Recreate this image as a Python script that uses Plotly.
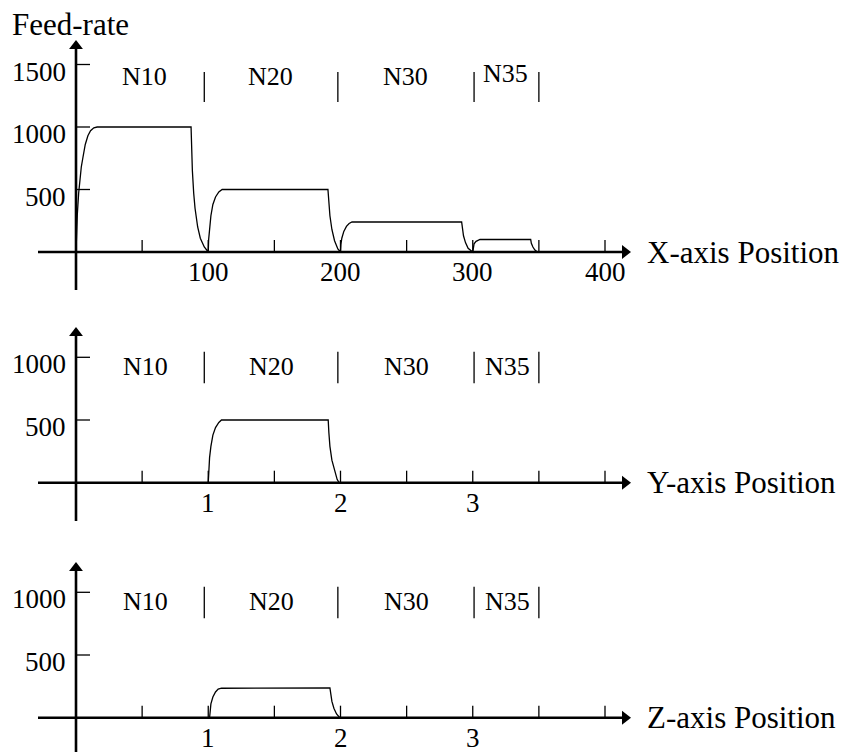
import plotly.graph_objects as go

# ---------------- data ----------------
# Panel 1: X-axis feed-rate profile (position, feed-rate)
x_pos = [0, 0.5, 1, 2, 3, 4, 5.3, 7, 9, 11, 13.5, 16,
         87, 87.5, 88, 89, 90, 92, 94, 97, 100,
         100.3, 101, 102, 103.5, 105.5, 108, 110.5,
         190.5, 191, 192, 193.5, 195.5, 198, 200,
         200.3, 201, 202.5, 204.5, 206.5, 208.7,
         291.6, 292, 293, 294.5, 296.5, 300,
         300.3, 301, 302.5, 305.5,
         343.8, 344.3, 345.5, 347, 349]
x_feed = [0, 180, 300, 470, 590, 680, 760, 860, 930, 970, 993, 1000,
          1000, 800, 650, 470, 350, 200, 110, 40, 0,
          100, 200, 290, 380, 440, 480, 500,
          500, 400, 290, 180, 90, 25, 0,
          60, 110, 165, 205, 228, 240,
          240, 190, 130, 75, 30, 0,
          40, 65, 85, 100,
          100, 70, 40, 15, 0]

# Panel 2: Y-axis
y_pos = [1, 1.003, 1.01, 1.02, 1.035, 1.055, 1.08, 1.1,
         1.907, 1.912, 1.92, 1.935, 1.955, 1.975, 1.99]
y_feed = [0, 100, 200, 290, 380, 440, 480, 500,
          500, 400, 290, 180, 90, 25, 0]

# Panel 3: Z-axis
z_pos = [1.01, 1.013, 1.02, 1.035, 1.055, 1.075, 1.1,
         1.92, 1.925, 1.935, 1.95, 1.97, 1.995]
z_feed = [0, 60, 110, 165, 205, 228, 235,
          237, 190, 130, 75, 30, 0]

# block labels and boundaries
blocks = ["N10", "N20", "N30", "N35"]
x_block_centers = [51.8, 146.7, 248.8, 325]
x_block_bounds = [97, 198, 301, 350]
yz_block_centers = [0.528, 1.48, 2.5, 3.26]
yz_block_bounds = [0.97, 1.98, 3.01, 3.5]

# ticks
x_minor_ticks = [50, 100, 150, 200, 250, 300, 350, 400]
x_tick_labels = [100, 200, 300, 400]
yz_minor_ticks = [0.5, 1, 1.5, 2, 2.5, 3, 3.5, 4]
yz_tick_labels = [1, 2, 3]
x_feed_ticks = [500, 1000, 1500]
yz_feed_ticks = [500, 1000]

axis_titles = ["X-axis Position", "Y-axis Position", "Z-axis Position"]
ylabel = "Feed-rate"

# ---------------- layout geometry ----------------
OFF = 8  # page body margin
WIN_W, WIN_H = 848, 756
W, H = WIN_W - OFF, WIN_H - OFF
X0PX = 76.0          # window pixel of position 0
PX_PER_UNIT = 132.25  # px per 100 (panel 1) / per 1 (panels 2,3)

# panel (window pixels): top, bottom, zero line, px per feed unit, x scale
panels = [
    dict(top=OFF, bot=300, zero=252.0, s=0.125, xs=100.0),
    dict(top=300, bot=530, zero=482.7, s=0.1254, xs=1.0),
    dict(top=530, bot=WIN_H, zero=717.7, s=0.1254, xs=1.0),
]

FONT = "Liberation Serif, Times New Roman, serif"
BLACK = "black"

fig = go.Figure()
layout = dict(width=W, height=H, margin=dict(l=0, r=0, t=0, b=0),
              paper_bgcolor="white", plot_bgcolor="white", showlegend=False)
annotations = []


def seg_trace(xs, ys, width, xa, ya):
    fig.add_trace(go.Scatter(x=xs, y=ys, mode="lines",
                             line=dict(color=BLACK, width=width),
                             xaxis=xa, yaxis=ya, hoverinfo="skip"))


series = [(x_pos, x_feed), (y_pos, y_feed), (z_pos, z_feed)]

for i, p in enumerate(panels):
    n = "" if i == 0 else str(i + 1)
    xa, ya = "x" + n, "y" + n
    xs = p["xs"]

    def fx(px):
        return (px - X0PX) / PX_PER_UNIT * xs

    def fy(py):
        return (p["zero"] - py) / p["s"]

    layout["xaxis" + n] = dict(domain=[0, 1], range=[fx(OFF), fx(WIN_W)],
                               visible=False, anchor=ya, fixedrange=True)
    layout["yaxis" + n] = dict(domain=[1 - (p["bot"] - OFF) / H, 1 - (p["top"] - OFF) / H],
                               range=[fy(p["bot"]), fy(p["top"])],
                               visible=False, anchor=xa, fixedrange=True)

    # axis lines
    y_bottom = [290, 521, 752][i]
    y_tip = [40, 327, 562][i]
    seg_trace([fx(38), fx(622)], [0, 0], 2.6, xa, ya)
    seg_trace([0, 0], [fy(y_bottom), fy(y_tip + 9)], 2.6, xa, ya)
    # arrowheads
    fig.add_trace(go.Scatter(x=[fx(625)], y=[0], mode="markers",
                             marker=dict(symbol="triangle-right", size=12, color=BLACK),
                             xaxis=xa, yaxis=ya, hoverinfo="skip"))
    fig.add_trace(go.Scatter(x=[0], y=[fy(y_tip + 6)], mode="markers",
                             marker=dict(symbol="triangle-up", size=12, color=BLACK),
                             xaxis=xa, yaxis=ya, hoverinfo="skip"))

    # x minor ticks
    ticks = x_minor_ticks if i == 0 else yz_minor_ticks
    tx, ty = [], []
    for t in ticks:
        tx += [t, t, None]
        ty += [0, 12 / p["s"], None]
    seg_trace(tx, ty, 1.3, xa, ya)

    # y ticks
    fticks = x_feed_ticks if i == 0 else yz_feed_ticks
    tx, ty = [], []
    for t in fticks:
        tx += [0, fx(90), None]
        ty += [t, t, None]
    seg_trace(tx, ty, 1.3, xa, ya)

    # block boundaries
    bounds = x_block_bounds if i == 0 else yz_block_bounds
    b_lo = 1200 if i == 0 else 793
    b_hi = 1440 if i == 0 else 1045
    tx, ty = [], []
    for b in bounds:
        tx += [b, b, None]
        ty += [b_lo, b_hi, None]
    seg_trace(tx, ty, 1.3, xa, ya)

    # curve
    sx, sy = series[i]
    seg_trace(sx, sy, 1.3, xa, ya)

    # block labels
    centers = x_block_centers if i == 0 else yz_block_centers
    lab_y = 1408 if i == 0 else 925
    for k, (c, lab) in enumerate(zip(centers, blocks)):
        yy = lab_y + (20 if (i == 0 and k == 3) else 0)
        annotations.append(dict(x=c, y=yy, xref=xa, yref=ya, text=lab, showarrow=False,
                                xanchor="center", yanchor="middle",
                                font=dict(family=FONT, size=26, color=BLACK)))

    # y tick labels
    for t in fticks:
        annotations.append(dict(x=fx(68), y=t - 7 / p["s"], xref=xa, yref=ya, text=str(t),
                                showarrow=False, xanchor="right", yanchor="middle",
                                font=dict(family=FONT, size=27, color=BLACK)))
    # x tick labels
    xl = x_tick_labels if i == 0 else yz_tick_labels
    for t in xl:
        annotations.append(dict(x=t, y=-20 / p["s"], xref=xa, yref=ya, text=str(t),
                                showarrow=False, xanchor="center", yanchor="middle",
                                font=dict(family=FONT, size=27, color=BLACK)))
    # axis title
    annotations.append(dict(x=fx(645), y=0, xref=xa, yref=ya, text=axis_titles[i],
                            showarrow=False, xanchor="left", yanchor="middle",
                            font=dict(family=FONT, size=31, color=BLACK)))
    if i == 0:
        annotations.append(dict(x=fx(10), y=fy(24), xref=xa, yref=ya, text=ylabel,
                                showarrow=False, xanchor="left", yanchor="middle",
                                font=dict(family=FONT, size=31, color=BLACK)))

layout["annotations"] = annotations
fig.update_layout(**layout)
fig.write_html("out.html")
